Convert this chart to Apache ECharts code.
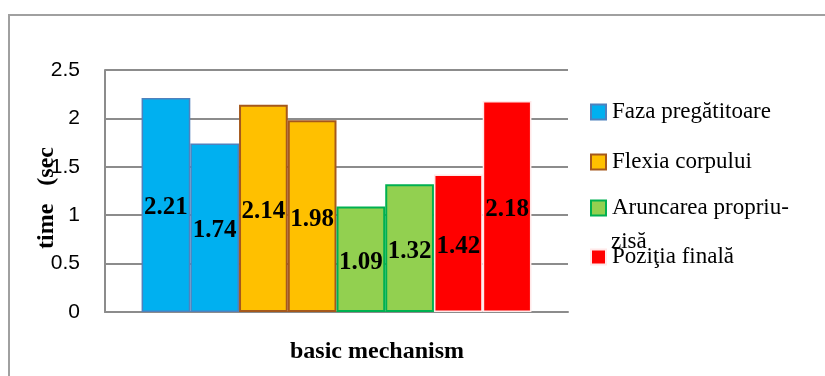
<!DOCTYPE html>
<html>
<head>
<meta charset="utf-8">
<script src="https://cdn.jsdelivr.net/npm/echarts@6/dist/echarts.min.js"></script>
<style>html,body{margin:0;padding:0;background:#fff}#c{width:825px;height:376px}</style>
</head>
<body>
<div id="c"></div>
<script>
const seriesNames = ['Faza pregătitoare', 'Flexia corpului', 'Aruncarea propriu-zisă', 'Poziţia finală'];
const barGroups = [0, 0, 1, 1, 2, 2, 3, 3];
const barValues = [2.21, 1.74, 2.14, 1.98, 1.09, 1.32, 1.42, 2.18];
const categories = ['basic mechanism'];
const yTicks = { min: 0, max: 2.5, interval: 0.5 };
const xTitle = 'basic mechanism';
const yTitle = 'time   (sec';

const fills = ['#00b0f0', '#ffc000', '#92d050', '#ff0000'];
const borders = ['#4f81bd', '#a5581c', '#00b050', '#ffe8e8'];
const borderW = [1.5, 2, 2, 1.5];

const series = barValues.map((v, i) => {
  const g = barGroups[i];
  return {
    type: 'bar',
    name: seriesNames[g],
    data: [v],
    barGap: '0%',
    barCategoryGap: '15.8%',
    itemStyle: { color: fills[g], borderColor: borders[g], borderWidth: borderW[g] },
    label: {
      show: true, position: 'inside', offset: [0, 3],
      formatter: p => p.value.toFixed(2),
      fontFamily: 'Liberation Serif', fontWeight: 'bold', fontSize: 25, color: '#000'
    }
  };
});

const legendCenters = [112, 162, 208, 257];
const legendLabels = ['Faza pregătitoare', 'Flexia corpului', 'Aruncarea propriu-', 'Poziţia finală'];
const legends = seriesNames.map((n, i) => ({
  data: [n],
  left: 590,
  top: legendCenters[i] - 13,
  padding: 0,
  itemWidth: 15, itemHeight: 15, itemGap: 6,
  icon: 'rect',
  selectedMode: false,
  formatter: () => legendLabels[i],
  textStyle: { fontFamily: 'Liberation Serif', fontSize: 23, color: '#000', lineHeight: 26, padding: [0, 0, 0, 1] }
}));

const chart = echarts.init(document.getElementById('c'));
chart.setOption({
  animation: false,
  legend: legends,
  grid: { left: 105, right: 257, top: 70, bottom: 64, containLabel: false },
  xAxis: {
    type: 'category', data: categories,
    axisLabel: { show: false }, axisTick: { show: false },
    axisLine: { show: true, lineStyle: { color: '#8c8c8c', width: 2 } }
  },
  yAxis: {
    type: 'value', min: yTicks.min, max: yTicks.max, interval: yTicks.interval,
    axisLine: { show: true, lineStyle: { color: '#8c8c8c', width: 2 } },
    axisTick: { show: false },
    splitLine: { show: true, lineStyle: { color: '#8c8c8c', width: 2 } },
    axisLabel: { fontFamily: 'Liberation Sans', fontSize: 21, color: '#000', margin: 25 }
  },
  series: series,
  graphic: [
    { type: 'rect', shape: { x: 9, y: 15, width: 900, height: 500 }, style: { fill: 'none', stroke: '#a0a0a0', lineWidth: 2 }, silent: true },
    { type: 'text', x: 377, y: 352, style: { text: xTitle, fontFamily: 'Liberation Serif', fontWeight: 'bold', fontSize: 24, fill: '#000', align: 'center', verticalAlign: 'middle' } },
    { type: 'text', x: 47, y: 198, rotation: Math.PI / 2, style: { text: yTitle, fontFamily: 'Liberation Serif', fontWeight: 'bold', fontSize: 24, fill: '#000', align: 'center', verticalAlign: 'middle' } },
    { type: 'text', x: 611, y: 242, style: { text: 'zisă', fontFamily: 'Liberation Serif', fontSize: 23, fill: '#000', align: 'left', verticalAlign: 'middle' } }
  ]
});
</script>
</body>
</html>
